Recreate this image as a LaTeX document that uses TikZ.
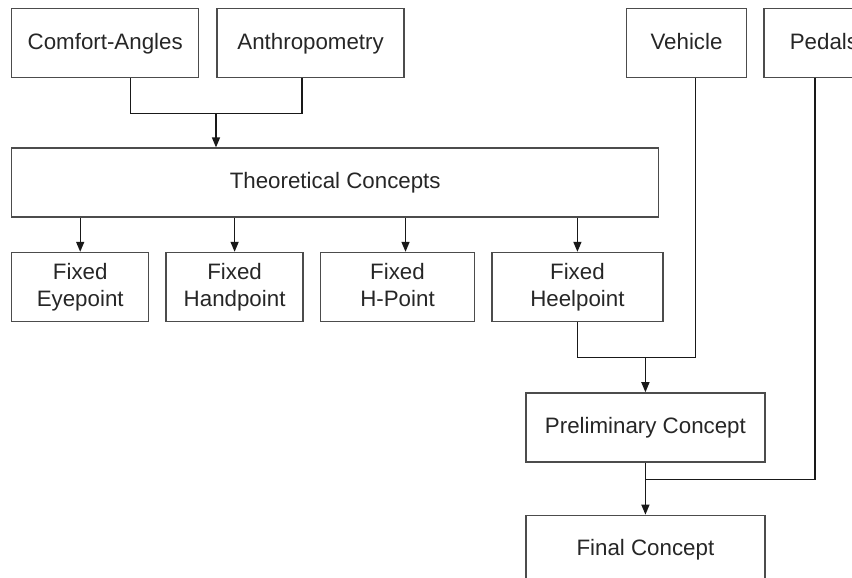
\documentclass[tikz,border=0pt]{standalone}
\usepackage{fontspec}
\setmainfont{Liberation Sans}
\usetikzlibrary{positioning}
\usetikzlibrary{arrows.meta}

\begin{document}
\begin{tikzpicture}
            \tikzstyle{box_node}=[rectangle, draw=black!70, line width=0.8pt, minimum height=1.38cm, inner sep=0pt, align=center, text depth=0.25em, text=black!85, font=\fontsize{12.7}{15}\selectfont];
            \tikzstyle{fixed_node}=[box_node, minimum width=2.74cm];
            \tikzstyle{arrow}=[black!90, line width=0.8pt, -{Triangle[length=2mm, width=1.6mm]}];
            \tikzstyle{line}=[black!90, line width=0.8pt];

            \useasboundingbox (0,0) rectangle (17.04,-11.54);

            % Inputs
            \node(comfort_angles) [box_node, minimum width=3.74cm, anchor=north west] at (0.22,-0.16) {Comfort-Angles};
            \node(anthropometry) [box_node, minimum width=3.74cm, right = 0.34cm of comfort_angles] {Anthropometry};
            \node(vehicle) [box_node, minimum width=2.4cm, right = 4.42cm of anthropometry] {Vehicle};
            \node(pedals) [box_node, minimum width=2.4cm, right = 0.32cm of vehicle] {Pedals};

            % Theory
            \node(theoretical) [box_node, minimum width=12.94cm, below right = 1.38cm and 0cm of comfort_angles.south west] {Theoretical Concepts};

            % Fixed points
            \node(fixed_eye) [fixed_node, below right = 0.68cm and 0cm of theoretical.south west] {Fixed\\Eyepoint};
            \node(fixed_hand) [fixed_node, right = 0.32cm of fixed_eye] {Fixed\\Handpoint};
            \node(fixed_h) [fixed_node, minimum width=3.08cm, right = 0.32cm of fixed_hand] {Fixed\\H-Point};
            \node(fixed_heel) [fixed_node, minimum width=3.42cm, right = 0.32cm of fixed_h] {Fixed\\Heelpoint};

            % Concepts
            \node(preliminary) [box_node, minimum width=4.78cm, below right = 1.4cm and 0.68cm of fixed_heel.south west] {Preliminary Concept};
            \node(final) [box_node, minimum width=4.78cm, below = 1.04cm of preliminary] {Final Concept};

            % Connector ends
            \coordinate(comfort_out) at ([xshift=0.51cm]comfort_angles.south);
            \coordinate(anthro_out) at ([xshift=-0.17cm]anthropometry.south);
            \coordinate(theory_in) at ([xshift=4.1cm]theoretical.north west);
            \coordinate(fixed_h_in) at ([xshift=0.16cm]fixed_h.north);
            \coordinate(vehicle_out) at ([xshift=0.18cm]vehicle.south);
            \coordinate(pedals_out) at ([xshift=-0.18cm]pedals.south);
            \coordinate(pedals_join) at ([yshift=-0.34cm]preliminary.south);

            % Inputs to theory
            \draw[line] (comfort_out) -- ++(0,-0.7) coordinate (input_join) -| (anthro_out);
            \draw[arrow] (theory_in |- input_join) -- (theory_in);

            % Theory to fixed points
            \draw[arrow] (theoretical.south -| fixed_eye.north) -- (fixed_eye.north);
            \draw[arrow] (theoretical.south -| fixed_hand.north) -- (fixed_hand.north);
            \draw[arrow] (theoretical.south -| fixed_h_in) -- (fixed_h_in);
            \draw[arrow] (theoretical.south -| fixed_heel.north) -- (fixed_heel.north);

            % To concepts
            \draw[line] (fixed_heel.south) -- ++(0,-0.7) coordinate (heel_join) -| (vehicle_out);
            \draw[arrow] (preliminary.north |- heel_join) -- (preliminary.north);
            \draw[line] (pedals_out) |- (pedals_join);
            \draw[arrow] (preliminary.south) -- (final.north);
\end{tikzpicture}
\end{document}
